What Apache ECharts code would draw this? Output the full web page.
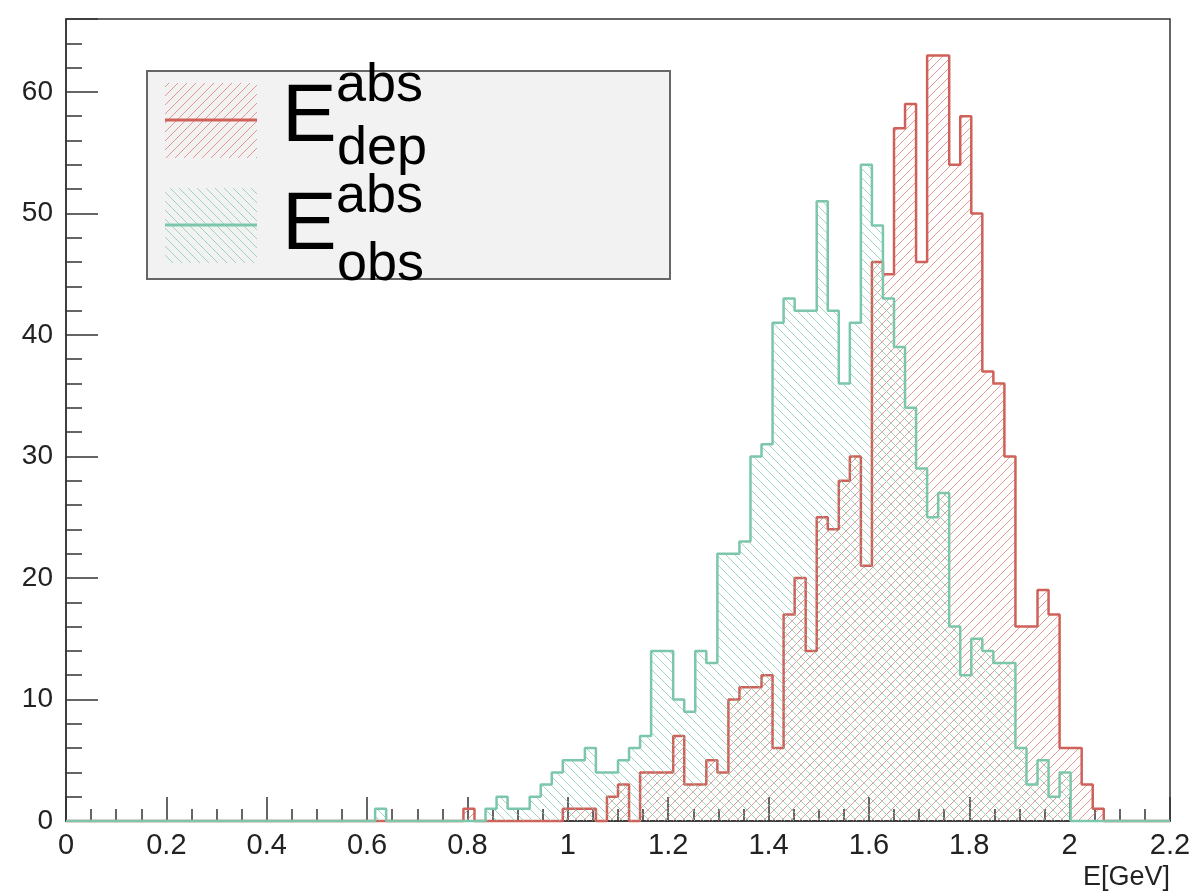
<!DOCTYPE html>
<html>
<head>
<meta charset="utf-8">
<script src="https://cdn.jsdelivr.net/npm/echarts@6/dist/echarts.min.js"></script>
<style>
  html, body { margin: 0; padding: 0; background: #ffffff; }
  #chart { width: 1194px; height: 895px; }
</style>
</head>
<body>
<div id="chart"></div>
<script>
// Histogram binning: 100 equal bins covering [0, 2.2] GeV
const binLow = 0;
const binWidth = 0.022;

// Deposited absorber energy, counts per bin
const depCounts = [
  0, 0, 0, 0, 0, 0, 0, 0, 0, 0,
  0, 0, 0, 0, 0, 0, 0, 0, 0, 0,
  0, 0, 0, 0, 0, 0, 0, 0, 0, 0,
  0, 0, 0, 0, 0, 0, 1, 0, 0, 0,
  0, 0, 0, 0, 0, 1, 1, 1, 0, 2,
  3, 0, 4, 4, 4, 7, 3, 3, 5, 4,
  10, 11, 11, 12, 6, 17, 20, 14, 25, 24,
  28, 30, 21, 46, 45, 57, 59, 46, 63, 63,
  54, 58, 50, 37, 36, 30, 16, 16, 19, 17,
  6, 6, 3, 1, 0, 0, 0, 0, 0, 0
];

// Observed absorber energy, counts per bin
const obsCounts = [
  0, 0, 0, 0, 0, 0, 0, 0, 0, 0,
  0, 0, 0, 0, 0, 0, 0, 0, 0, 0,
  0, 0, 0, 0, 0, 0, 0, 0, 1, 0,
  0, 0, 0, 0, 0, 0, 0, 0, 1, 2,
  1, 1, 2, 3, 4, 5, 5, 6, 4, 4,
  5, 6, 7, 14, 14, 10, 9, 14, 13, 22,
  22, 23, 30, 31, 41, 43, 42, 42, 51, 42,
  36, 41, 54, 49, 43, 39, 34, 29, 25, 27,
  16, 12, 15, 14, 13, 13, 6, 3, 5, 2,
  4, 0, 0, 0, 0, 0, 0, 0, 0, 0
];

// Axis ranges and tick spacing
const xRange = [0, 2.2];
const xTickStep = 0.2;
const yRange = [0, 66];
const yTickStep = 10;

const depColor = '#d0605a';
const obsColor = '#7cc7ab';
const depHatchColor = 'rgba(222, 120, 112, 0.75)';
const obsHatchColor = 'rgba(130, 200, 172, 0.75)';
const FONT = '"Liberation Sans", Arial, Helvetica, sans-serif';

// Tile with a single diagonal hatch line; dir > 0 draws "/", otherwise "\"
function hatchTile(color, dir, size) {
  const c = document.createElement('canvas');
  c.width = size; c.height = size;
  const g = c.getContext('2d');
  g.strokeStyle = color;
  g.lineWidth = 1;
  g.beginPath();
  if (dir > 0) {
    g.moveTo(0, size); g.lineTo(size, 0);
    g.moveTo(-1, 1); g.lineTo(1, -1);
    g.moveTo(size - 1, size + 1); g.lineTo(size + 1, size - 1);
  } else {
    g.moveTo(0, 0); g.lineTo(size, size);
    g.moveTo(size - 1, -1); g.lineTo(size + 1, 1);
    g.moveTo(-1, size - 1); g.lineTo(1, size + 1);
  }
  g.stroke();
  return c;
}

const depHatch = hatchTile(depHatchColor, 1, 9);
const obsHatch = hatchTile(obsHatchColor, -1, 9);

// Left bin edges paired with counts; a closing point ends the last bin
function stepPoints(counts) {
  const pts = counts.map((v, i) => [+(binLow + i * binWidth).toFixed(4), v]);
  pts.push([+(binLow + counts.length * binWidth).toFixed(4), counts[counts.length - 1]]);
  return pts;
}

const tickLine = { color: '#333', width: 1.5 };

const chart = echarts.init(document.getElementById('chart'), null, { renderer: 'canvas' });

const legendX = 147, legendY = 71;
const sampleX = 165, sampleW = 92;

chart.setOption({
  animation: false,
  backgroundColor: '#ffffff',
  grid: {
    left: 66, right: 24, top: 19, bottom: 74,
    show: true, borderColor: '#333', borderWidth: 1.5, backgroundColor: 'transparent'
  },
  xAxis: {
    type: 'value',
    min: xRange[0], max: xRange[1], interval: xTickStep,
    axisLine: { show: true, lineStyle: tickLine },
    axisTick: { show: true, inside: true, length: 24, lineStyle: tickLine },
    minorTick: { show: true, splitNumber: 4, length: 12, lineStyle: tickLine },
    splitLine: { show: false },
    axisLabel: {
      fontFamily: FONT, fontSize: 29, color: '#222', margin: 10,
      formatter: v => String(+v.toFixed(1))
    }
  },
  yAxis: {
    type: 'value',
    min: yRange[0], max: yRange[1], interval: yTickStep,
    axisLine: { show: true, lineStyle: tickLine },
    axisTick: { show: true, inside: true, length: 32, lineStyle: tickLine },
    minorTick: { show: true, splitNumber: 5, length: 16, lineStyle: tickLine },
    splitLine: { show: false },
    axisLabel: {
      fontFamily: FONT, fontSize: 28, color: '#222', margin: 13,
      formatter: v => (v % yTickStep === 0 ? String(v) : '')
    }
  },
  series: [
    {
      name: 'E_dep^abs',
      type: 'line',
      step: 'end',
      symbol: 'none',
      clip: false,
      z: 2,
      data: stepPoints(depCounts),
      lineStyle: { color: depColor, width: 2.5 },
      areaStyle: { color: { image: depHatch, repeat: 'repeat' }, opacity: 1 }
    },
    {
      name: 'E_obs^abs',
      type: 'line',
      step: 'end',
      symbol: 'none',
      clip: false,
      z: 3,
      data: stepPoints(obsCounts),
      lineStyle: { color: obsColor, width: 2.5 },
      areaStyle: { color: { image: obsHatch, repeat: 'repeat' }, opacity: 1 }
    }
  ],
  graphic: [
    // Axis title
    {
      type: 'text', right: 24, top: 864, z: 10,
      style: { text: 'E[GeV]', font: '27px ' + FONT, fill: '#222' }
    },
    // Legend box
    {
      type: 'rect', z: 20,
      shape: { x: legendX, y: legendY, width: 523, height: 208 },
      style: { fill: '#f2f2f2', stroke: '#666', lineWidth: 2 }
    },
    {
      type: 'rect', z: 21,
      shape: { x: sampleX, y: 83, width: sampleW, height: 75 },
      style: { fill: { image: depHatch, repeat: 'repeat' }, stroke: null }
    },
    {
      type: 'line', z: 22,
      shape: { x1: sampleX, y1: 120, x2: sampleX + sampleW, y2: 120 },
      style: { stroke: depColor, lineWidth: 3 }
    },
    {
      type: 'rect', z: 21,
      shape: { x: sampleX, y: 188, width: sampleW, height: 75 },
      style: { fill: { image: obsHatch, repeat: 'repeat' }, stroke: null }
    },
    {
      type: 'line', z: 22,
      shape: { x1: sampleX, y1: 225, x2: sampleX + sampleW, y2: 225 },
      style: { stroke: obsColor, lineWidth: 3 }
    },
    // Legend labels: E with superscript "abs" and subscripts "dep" / "obs"
    {
      type: 'text', z: 23,
      style: { text: 'E', x: 282, y: 118, font: '82px ' + FONT, fill: '#000',
               textVerticalAlign: 'middle', verticalAlign: 'middle' }
    },
    {
      type: 'text', z: 23,
      style: { text: 'abs', x: 336, y: 86, font: '54px ' + FONT, fill: '#000',
               textVerticalAlign: 'middle', verticalAlign: 'middle' }
    },
    {
      type: 'text', z: 23,
      style: { text: 'dep', x: 337, y: 149, font: '54px ' + FONT, fill: '#000',
               textVerticalAlign: 'middle', verticalAlign: 'middle' }
    },
    {
      type: 'text', z: 23,
      style: { text: 'E', x: 282, y: 226, font: '82px ' + FONT, fill: '#000',
               textVerticalAlign: 'middle', verticalAlign: 'middle' }
    },
    {
      type: 'text', z: 23,
      style: { text: 'abs', x: 336, y: 197, font: '54px ' + FONT, fill: '#000',
               textVerticalAlign: 'middle', verticalAlign: 'middle' }
    },
    {
      type: 'text', z: 23,
      style: { text: 'obs', x: 337, y: 265, font: '54px ' + FONT, fill: '#000',
               textVerticalAlign: 'middle', verticalAlign: 'middle' }
    }
  ]
});
</script>
</body>
</html>
